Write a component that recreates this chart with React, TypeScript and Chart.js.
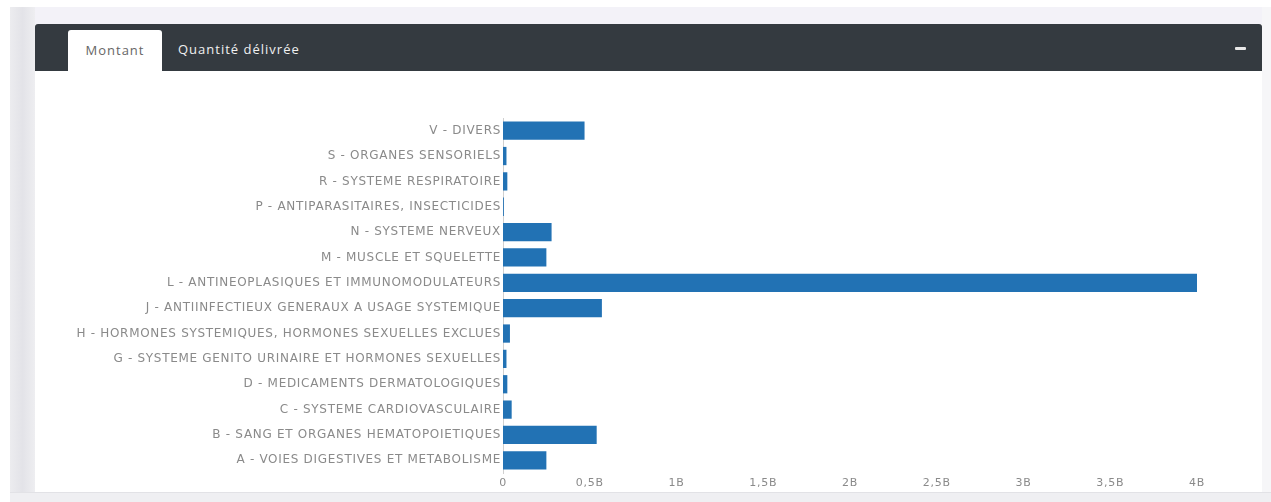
import React, { useEffect, useRef } from "react";
import { Chart, registerables } from "chart.js";

Chart.register(...registerables);

const categories = [
  "V - DIVERS",
  "S - ORGANES SENSORIELS",
  "R - SYSTEME RESPIRATOIRE",
  "P - ANTIPARASITAIRES, INSECTICIDES",
  "N - SYSTEME NERVEUX",
  "M - MUSCLE ET SQUELETTE",
  "L - ANTINEOPLASIQUES ET IMMUNOMODULATEURS",
  "J - ANTIINFECTIEUX GENERAUX A USAGE SYSTEMIQUE",
  "H - HORMONES SYSTEMIQUES, HORMONES SEXUELLES EXCLUES",
  "G - SYSTEME GENITO URINAIRE ET HORMONES SEXUELLES",
  "D - MEDICAMENTS DERMATOLOGIQUES",
  "C - SYSTEME CARDIOVASCULAIRE",
  "B - SANG ET ORGANES HEMATOPOIETIQUES",
  "A - VOIES DIGESTIVES ET METABOLISME",
];

const montant = [
  0.47e9, 0.02e9, 0.025e9, 0.005e9, 0.28e9, 0.25e9, 4.0e9, 0.57e9, 0.04e9,
  0.02e9, 0.025e9, 0.05e9, 0.54e9, 0.25e9,
];

const tabs = ["Montant", "Quantité délivrée"];

function formatTick(v: number): string {
  if (v === 0) return "0";
  const b = v / 1e9;
  return String(b).replace(".", ",") + "B";
}

const spacingPlugin = {
  id: "letterSpacing",
  beforeDraw(chart: any) {
    (chart.ctx as any).letterSpacing = "0.7px";
  },
  afterDraw(chart: any) {
    (chart.ctx as any).letterSpacing = "0px";
  },
};

function BarChart() {
  const ref = useRef<HTMLCanvasElement | null>(null);
  useEffect(() => {
    if (!ref.current) return;
    const chart = new Chart(ref.current, {
      type: "bar",
      data: {
        labels: categories,
        datasets: [
          {
            label: "Montant",
            data: montant,
            backgroundColor: "#2272b4",
            borderWidth: 0,
          },
        ],
      },
      plugins: [spacingPlugin],
      options: {
        indexAxis: "y",
        animation: false,
        responsive: false,
        maintainAspectRatio: false,
        layout: { padding: { top: 23, bottom: 2, left: 0, right: 63 } },
        plugins: { legend: { display: false }, tooltip: { enabled: false } },
        scales: {
          x: {
            min: 0,
            max: 4e9,
            grid: { display: false, drawTicks: false },
            border: { display: false },
            afterFit: (s: any) => {
              s.height = 20;
            },
            ticks: {
              stepSize: 0.5e9,
              padding: 4,
              color: "#8a8a8a",
              font: { family: "DejaVu Sans", size: 11 },
              callback: (v: any) => formatTick(Number(v)),
            },
          },
          y: {
            grid: { display: false, drawTicks: false },
            border: { display: true, color: "#d0d0d0", width: 1 },
            afterFit: (s: any) => {
              s.width = 463;
            },
            ticks: {
              padding: 2,
              color: "#8a8a8a",
              autoSkip: false,
              font: { family: "DejaVu Sans", size: 12 },
            },
          },
        },
      },
    });
    return () => chart.destroy();
  }, []);
  return (
    <canvas
      ref={ref}
      width={1220}
      height={400}
      style={{ position: "absolute", left: 40, top: 95, width: 1220, height: 400 }}
    />
  );
}

export default function App() {
  return (
    <div
      style={{
        position: "absolute",
        left: 0,
        top: 0,
        width: 1271,
        height: 502,
        background: "#ffffff",
        overflow: "hidden",
        fontFamily: "'Open Sans', sans-serif",
      }}
    >
      <div style={{ position: "absolute", left: 10, top: 7, width: 1261, height: 18, background: "#f3f2f8" }} />
      <div style={{ position: "absolute", left: 10, top: 7, width: 25, height: 495, background: "linear-gradient(to right, #ececef, #e3e3e8, #eeeef1)" }} />
      <div style={{ position: "absolute", left: 1262, top: 7, width: 9, height: 495, background: "#f6f6f8" }} />
      <div style={{ position: "absolute", left: 10, top: 492, width: 1261, height: 10, background: "#efeff2", borderTop: "1px solid #e2e2e6" }} />
      <div style={{ position: "absolute", left: 35, top: 24, width: 1227, height: 468, background: "#ffffff" }} />
      <div style={{ position: "absolute", left: 35, top: 24, width: 1227, height: 47, background: "#343a40", borderRadius: "3px 3px 0 0" }} />
      <div
        style={{
          position: "absolute",
          left: 68,
          top: 30,
          width: 94,
          height: 41,
          background: "#ffffff",
          borderRadius: "3px 3px 0 0",
          color: "#666",
          fontSize: 13,
          letterSpacing: "1px",
          lineHeight: "41px",
          textAlign: "center",
        }}
      >
        {tabs[0]}
      </div>
      <div
        style={{
          position: "absolute",
          left: 178,
          top: 30,
          height: 41,
          color: "#f0f0f0",
          fontSize: 13,
          letterSpacing: "1px",
          lineHeight: "39px",
        }}
      >
        {tabs[1]}
      </div>
      <div style={{ position: "absolute", left: 1235, top: 47, width: 11, height: 3, background: "#e8e8e8", borderRadius: 1 }} />
      <BarChart />
    </div>
  );
}
